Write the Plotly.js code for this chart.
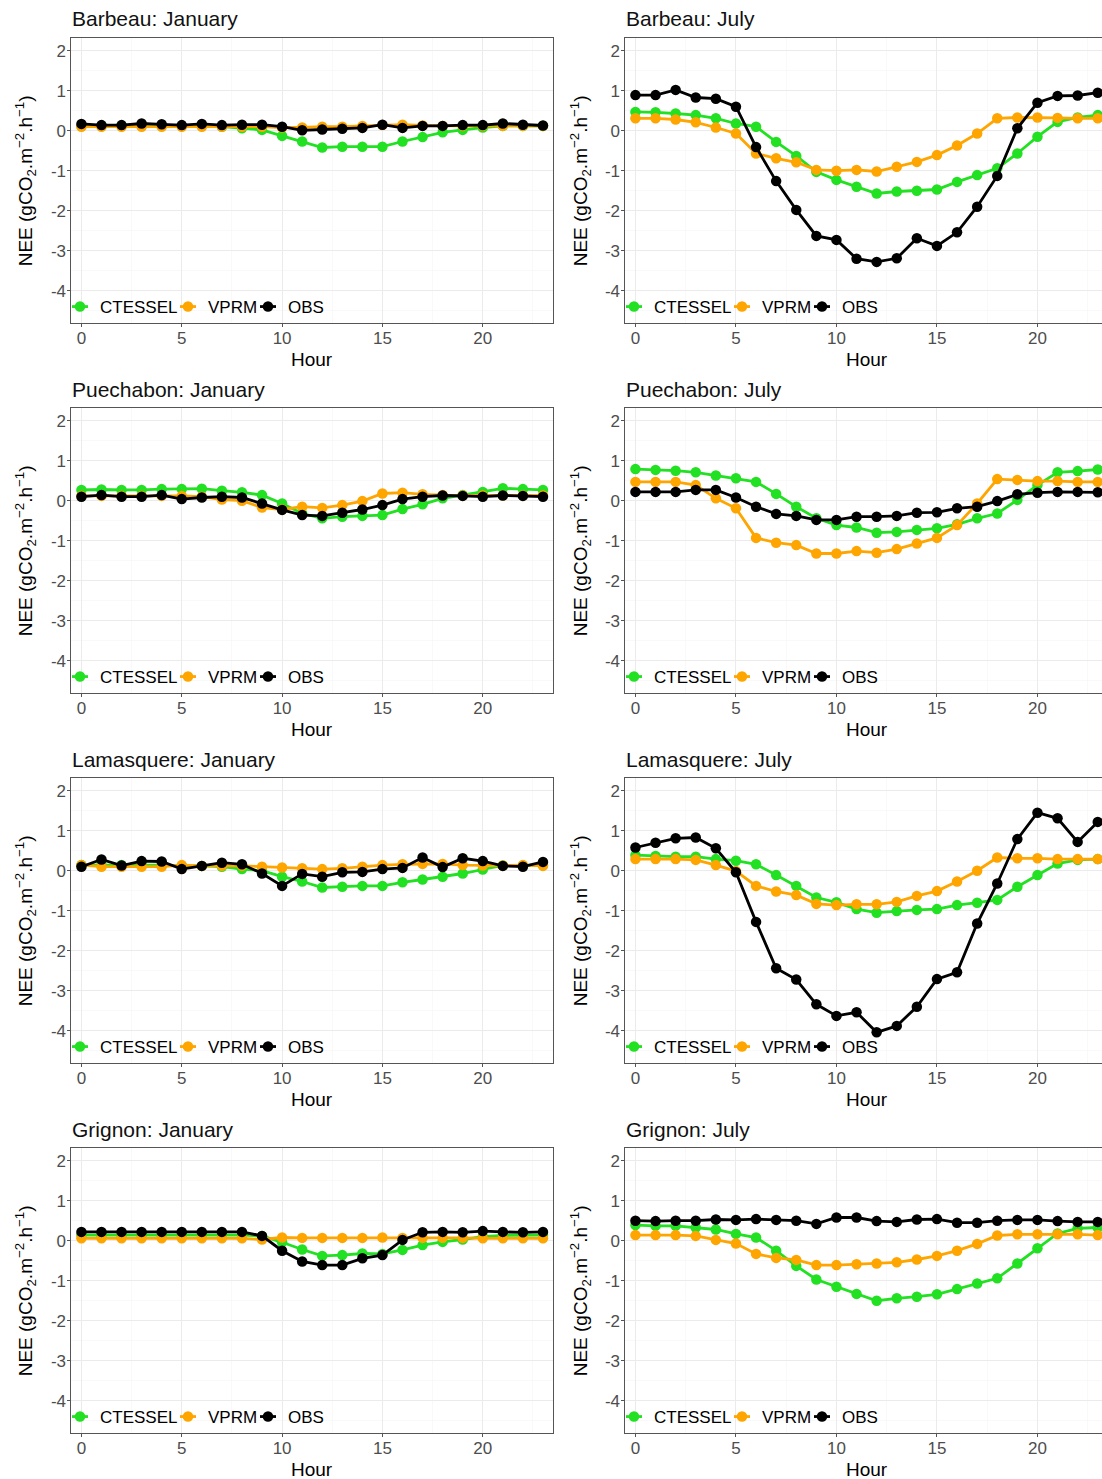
<!DOCTYPE html>
<html><head><meta charset="utf-8">
<script src="https://cdn.plot.ly/plotly-3.0.1.min.js"></script>
<style>
html,body{margin:0;padding:0;overflow:hidden;background:#fff}
#chart{width:1110px;height:1479px}
#chart .legendlines path.js-line{d:path("M12,0h16");}
</style>
</head><body><div id="chart"></div>
<script>
const hours = [0,1,2,3,4,5,6,7,8,9,10,11,12,13,14,15,16,17,18,19,20,21,22,23];
const sites = ["Barbeau","Puechabon","Lamasquere","Grignon"];
const months = ["January","July"];
const seriesNames = ["CTESSEL","VPRM","OBS"];
const seriesColors = ["#22e022","#ffa500","#000000"];
const yTickVals = [-4,-3,-2,-1,0,1,2];
const yTickText = ["-4","-3","-2","-1","0","1","2"];
const xTickVals = [0,5,10,15,20];
const xTickText = ["0","5","10","15","20"];

// Barbeau
const barbeauJanCTESSEL = [0.12,0.12,0.12,0.12,0.12,0.12,0.12,0.10,0.06,0.02,-0.13,-0.27,-0.42,-0.40,-0.40,-0.40,-0.27,-0.16,-0.04,0.02,0.08,0.12,0.12,0.12];
const barbeauJanVPRM    = [0.10,0.10,0.10,0.10,0.10,0.10,0.10,0.10,0.10,0.10,0.08,0.08,0.10,0.10,0.12,0.14,0.15,0.13,0.12,0.12,0.12,0.12,0.12,0.12];
const barbeauJanOBS     = [0.17,0.14,0.14,0.18,0.16,0.14,0.17,0.14,0.15,0.15,0.10,0.01,0.03,0.05,0.07,0.15,0.07,0.12,0.12,0.14,0.14,0.18,0.15,0.13];
const barbeauJulCTESSEL = [0.47,0.46,0.43,0.39,0.31,0.18,0.10,-0.28,-0.63,-1.03,-1.23,-1.40,-1.57,-1.52,-1.50,-1.47,-1.28,-1.11,-0.94,-0.57,-0.15,0.22,0.33,0.39];
const barbeauJulVPRM    = [0.31,0.31,0.28,0.21,0.08,-0.07,-0.57,-0.69,-0.79,-0.98,-1.00,-0.98,-1.02,-0.90,-0.78,-0.61,-0.37,-0.07,0.31,0.33,0.33,0.32,0.31,0.31];
const barbeauJulOBS     = [0.89,0.89,1.02,0.83,0.80,0.60,-0.41,-1.26,-1.98,-2.63,-2.73,-3.20,-3.28,-3.19,-2.69,-2.88,-2.54,-1.90,-1.13,0.06,0.70,0.87,0.88,0.95];
// Puechabon
const puechabonJanCTESSEL = [0.27,0.28,0.27,0.27,0.29,0.29,0.30,0.25,0.21,0.14,-0.07,-0.32,-0.44,-0.40,-0.38,-0.36,-0.21,-0.09,0.06,0.14,0.22,0.31,0.29,0.27];
const puechabonJanVPRM    = [0.12,0.12,0.12,0.12,0.12,0.12,0.10,0.03,0.00,-0.17,-0.22,-0.15,-0.18,-0.11,-0.01,0.18,0.20,0.16,0.14,0.13,0.13,0.13,0.13,0.13];
const puechabonJanOBS     = [0.10,0.14,0.10,0.10,0.14,0.04,0.08,0.10,0.08,-0.07,-0.23,-0.36,-0.38,-0.30,-0.22,-0.11,0.04,0.10,0.13,0.12,0.10,0.13,0.12,0.10];
const puechabonJulCTESSEL = [0.79,0.77,0.75,0.71,0.63,0.56,0.47,0.17,-0.15,-0.44,-0.61,-0.67,-0.80,-0.78,-0.73,-0.69,-0.59,-0.44,-0.32,0.02,0.39,0.71,0.74,0.78];
const puechabonJulVPRM    = [0.47,0.47,0.47,0.39,0.06,-0.19,-0.93,-1.05,-1.11,-1.32,-1.32,-1.26,-1.30,-1.21,-1.07,-0.93,-0.61,-0.07,0.54,0.52,0.49,0.49,0.47,0.47];
const puechabonJulOBS     = [0.22,0.22,0.22,0.27,0.27,0.08,-0.15,-0.33,-0.38,-0.48,-0.48,-0.40,-0.40,-0.38,-0.30,-0.29,-0.19,-0.15,-0.01,0.16,0.20,0.22,0.22,0.21];
// Lamasquere
const lamasquereJanCTESSEL = [0.14,0.14,0.14,0.14,0.14,0.12,0.12,0.10,0.04,0.00,-0.15,-0.27,-0.42,-0.40,-0.38,-0.38,-0.29,-0.22,-0.15,-0.07,0.03,0.13,0.13,0.14];
const lamasquereJanVPRM    = [0.14,0.10,0.10,0.10,0.10,0.14,0.12,0.12,0.12,0.10,0.08,0.06,0.04,0.06,0.10,0.14,0.16,0.17,0.17,0.14,0.13,0.13,0.14,0.12];
const lamasquereJanOBS     = [0.10,0.28,0.13,0.24,0.23,0.04,0.12,0.20,0.16,-0.07,-0.38,-0.08,-0.15,-0.04,-0.03,0.04,0.07,0.33,0.09,0.31,0.24,0.12,0.10,0.22];
const lamasquereJulCTESSEL = [0.39,0.37,0.35,0.35,0.29,0.25,0.16,-0.11,-0.38,-0.67,-0.79,-0.96,-1.05,-1.01,-0.98,-0.96,-0.86,-0.80,-0.73,-0.40,-0.11,0.18,0.27,0.29];
const lamasquereJulVPRM    = [0.29,0.29,0.29,0.27,0.14,-0.01,-0.38,-0.52,-0.61,-0.83,-0.86,-0.84,-0.84,-0.78,-0.63,-0.51,-0.27,0.00,0.33,0.31,0.31,0.29,0.29,0.29];
const lamasquereJulOBS     = [0.58,0.70,0.81,0.83,0.56,-0.04,-1.28,-2.44,-2.72,-3.34,-3.63,-3.54,-4.04,-3.88,-3.40,-2.71,-2.54,-1.32,-0.32,0.79,1.45,1.31,0.72,1.22];
// Grignon
const grignonJanCTESSEL = [0.14,0.14,0.14,0.14,0.14,0.14,0.14,0.14,0.14,0.12,-0.04,-0.22,-0.38,-0.36,-0.32,-0.33,-0.23,-0.11,-0.03,0.03,0.10,0.13,0.13,0.14];
const grignonJanVPRM    = [0.06,0.06,0.06,0.06,0.06,0.06,0.06,0.06,0.06,0.03,0.08,0.07,0.07,0.07,0.07,0.08,0.07,0.07,0.07,0.07,0.06,0.06,0.06,0.06];
const grignonJanOBS     = [0.22,0.22,0.22,0.22,0.22,0.22,0.22,0.22,0.22,0.12,-0.25,-0.52,-0.61,-0.61,-0.44,-0.36,0.02,0.21,0.22,0.21,0.24,0.22,0.21,0.22];
const grignonJulCTESSEL = [0.39,0.37,0.37,0.33,0.28,0.17,0.08,-0.25,-0.63,-0.97,-1.15,-1.33,-1.50,-1.44,-1.40,-1.34,-1.21,-1.07,-0.94,-0.57,-0.19,0.18,0.31,0.33];
const grignonJulVPRM    = [0.14,0.14,0.14,0.12,0.02,-0.07,-0.33,-0.43,-0.48,-0.61,-0.61,-0.59,-0.57,-0.54,-0.47,-0.38,-0.25,-0.08,0.13,0.16,0.16,0.16,0.16,0.14];
const grignonJulOBS     = [0.50,0.49,0.50,0.50,0.53,0.52,0.54,0.52,0.50,0.42,0.58,0.58,0.49,0.47,0.53,0.54,0.45,0.45,0.50,0.52,0.52,0.49,0.47,0.47];

const panelData = [
  [[barbeauJanCTESSEL,barbeauJanVPRM,barbeauJanOBS],[barbeauJulCTESSEL,barbeauJulVPRM,barbeauJulOBS]],
  [[puechabonJanCTESSEL,puechabonJanVPRM,puechabonJanOBS],[puechabonJulCTESSEL,puechabonJulVPRM,puechabonJulOBS]],
  [[lamasquereJanCTESSEL,lamasquereJanVPRM,lamasquereJanOBS],[lamasquereJulCTESSEL,lamasquereJulVPRM,lamasquereJulOBS]],
  [[grignonJanCTESSEL,grignonJanVPRM,grignonJanOBS],[grignonJulCTESSEL,grignonJulVPRM,grignonJulOBS]]
];

const W = 1110, H = 1479;
const FONT = "Liberation Sans, Arial, Helvetica, sans-serif";
const colLeft = [71.4, 625.4], colRight = [553.0, 1107.8];
const rowTop0 = 38.3, rowBot0 = 323.3, rowStep = 370;
// legend-entry origins relative to panel left edge (marker 20px, text 40px right of origin)
const legendOffsets = [-11.4, 96.6, 176.6];

const traces = [];
const layout = {
  width: W, height: H,
  margin: {l:0, r:0, t:0, b:0},
  paper_bgcolor: "#ffffff", plot_bgcolor: "#ffffff",
  font: {family: FONT, color: "#000"},
  annotations: [],
  showlegend: true
};

let legendCount = 0;
for (let r = 0; r < 4; r++) {
  for (let c = 0; c < 2; c++) {
    const p = r*2 + c;
    const n = p + 1;
    const xa = n === 1 ? "xaxis" : "xaxis" + n;
    const ya = n === 1 ? "yaxis" : "yaxis" + n;
    const xr = n === 1 ? "x" : "x" + n;
    const yr = n === 1 ? "y" : "y" + n;
    const top = rowTop0 + r*rowStep, bot = rowBot0 + r*rowStep;
    layout[xa] = {
      domain: [colLeft[c]/W, colRight[c]/W], anchor: yr,
      range: [-0.5, 23.5], tickvals: xTickVals, ticktext: xTickText,
      showgrid: true, gridcolor: "#ebebeb", gridwidth: 1,
      minor: {tickvals: [2.5,7.5,12.5,17.5,22.5], showgrid: true, gridcolor: "#f5f5f5", gridwidth: 0.6},
      zeroline: false, showline: true, mirror: true, linecolor: "#555555", linewidth: 1,
      ticks: "outside", ticklen: 3, tickcolor: "#555555", tickwidth: 1, ticklabelstandoff: -4,
      tickfont: {family: FONT, size: 17, color: "#4d4d4d"}, fixedrange: true
    };
    layout[ya] = {
      domain: [1 - bot/H, 1 - top/H], anchor: xr,
      range: [-4.815, 2.31], tickvals: yTickVals, ticktext: yTickText,
      showgrid: true, gridcolor: "#ebebeb", gridwidth: 1,
      minor: {tickvals: [-4.5,-3.5,-2.5,-1.5,-0.5,0.5,1.5], showgrid: true, gridcolor: "#f5f5f5", gridwidth: 0.6},
      zeroline: false, showline: true, mirror: true, linecolor: "#555555", linewidth: 1,
      ticks: "outside", ticklen: 3, tickcolor: "#555555", tickwidth: 1, ticklabelstandoff: -2,
      tickfont: {family: FONT, size: 17, color: "#4d4d4d"}, fixedrange: true
    };
    for (let s = 0; s < 3; s++) {
      legendCount++;
      const lg = legendCount === 1 ? "legend" : "legend" + legendCount;
      layout[lg] = {
        orientation: "h", x: (colLeft[c] + legendOffsets[s])/W, xanchor: "left",
        y: 1 - (307 + r*rowStep)/H, yanchor: "middle",
        bgcolor: "rgba(0,0,0,0)", font: {family: FONT, size: 17, color: "#000"},
        itemwidth: 30, tracegroupgap: 0
      };
      traces.push({
        x: hours, y: panelData[r][c][s], xaxis: xr, yaxis: yr,
        type: "scatter", mode: "lines+markers", name: seriesNames[s],
        legend: lg, showlegend: true,
        line: {color: seriesColors[s], width: 2.8},
        marker: {color: seriesColors[s], size: 10.5},
        hoverinfo: "skip"
      });
    }
    const xc = (colLeft[c] + colRight[c]) / 2;
    layout.annotations.push({
      text: sites[r] + ": " + months[c], xref: "paper", yref: "paper",
      x: (colLeft[c]-1.5)/W, y: 1 - (19 + r*rowStep)/H, xanchor: "left", yanchor: "middle",
      showarrow: false, font: {family: FONT, size: 21, color: "#111111"}
    });
    layout.annotations.push({
      text: "Hour", xref: "paper", yref: "paper",
      x: xc/W, y: 1 - (359 + r*rowStep)/H, xanchor: "center", yanchor: "middle",
      showarrow: false, font: {family: FONT, size: 19, color: "#000"}
    });
    layout.annotations.push({
      text: "NEE (gCO<sub>2</sub>.m<sup>−2</sup>.h<sup>−1</sup>)", xref: "paper", yref: "paper",
      x: (c === 0 ? 25.5 : 580.5)/W, y: 1 - ((top+bot)/2)/H, xanchor: "center", yanchor: "middle",
      textangle: -90, showarrow: false, font: {family: FONT, size: 19, color: "#000"}
    });
  }
}

Plotly.newPlot("chart", traces, layout, {displayModeBar: false, staticPlot: true});
</script>
</body></html>
